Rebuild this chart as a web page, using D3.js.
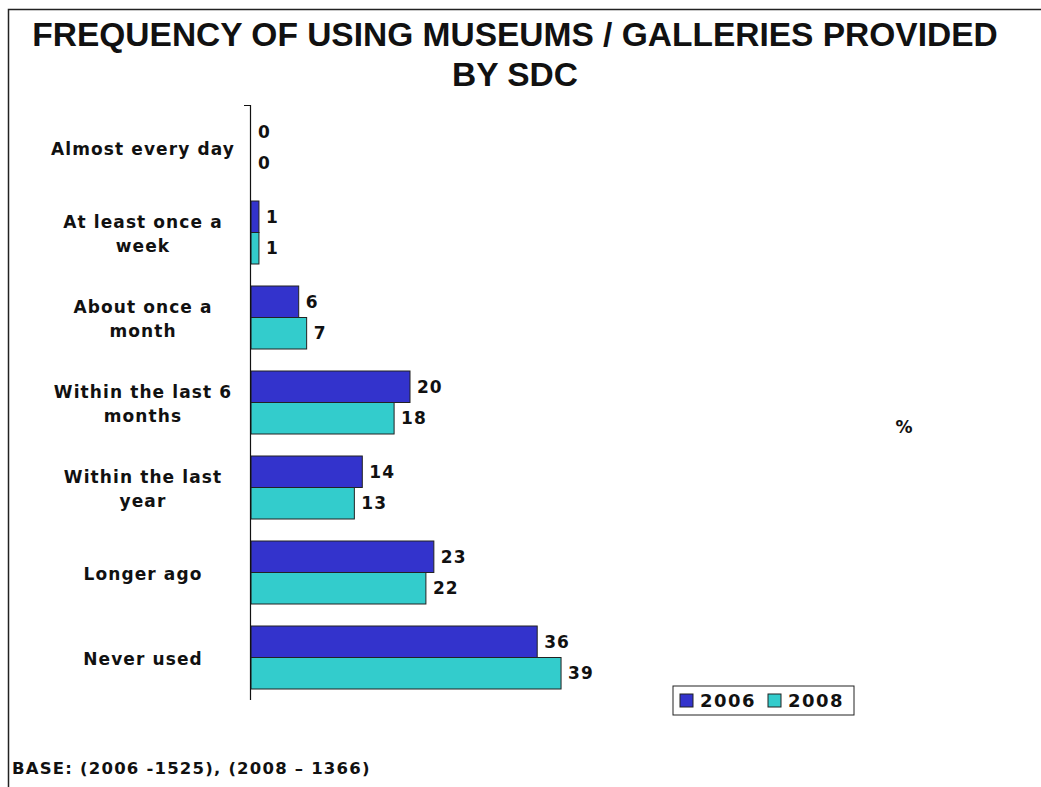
<!DOCTYPE html>
<html>
<head>
<meta charset="utf-8">
<script src="https://cdn.jsdelivr.net/npm/d3@7"></script>
<style>
  body { margin: 0; background: #fff; }
  svg text { font-family: "DejaVu Sans", Verdana, sans-serif; font-weight: bold; fill: #111; }
</style>
</head>
<body>
<svg id="chart"></svg>
<script>
// Chart data
const categories = [
  "Almost every day",
  "At least once a\nweek",
  "About once a\nmonth",
  "Within the last 6\nmonths",
  "Within the last\nyear",
  "Longer ago",
  "Never used"
];
const years = ["2006", "2008"];
const values2006 = [0, 1, 6, 20, 14, 23, 36];
const values2008 = [0, 1, 7, 18, 13, 22, 39];
const titleLines = ["FREQUENCY OF USING MUSEUMS / GALLERIES PROVIDED", "BY SDC"];
const baseNote = "BASE: (2006 -1525), (2008 \u2013 1366)";

const width = 1041;
const height = 787;
const colors = { "2006": "#3333cc", "2008": "#33cccc" };

const svg = d3.select("#chart").attr("width", width).attr("height", height);

// frame (left + top only, rest runs off the page)
svg.append("path")
  .attr("d", `M8.5,${height}V9.5H${width}`)
  .attr("fill", "none")
  .attr("stroke", "#222")
  .attr("stroke-width", 1.5);

// title
svg.append("g")
  .selectAll("text")
  .data(titleLines)
  .enter()
  .append("text")
  .attr("x", 515)
  .attr("y", (d, i) => 46 + i * 40)
  .attr("text-anchor", "middle")
  .style("font-family", "'Liberation Sans', Arial, sans-serif")
  .style("font-size", "33.5px")
  .text((d) => d);

// SCALES
const rows = categories.map((c, i) => ({ cat: c, v: { "2006": values2006[i], "2008": values2008[i] } }));

const yScale = d3.scaleBand()
  .domain(categories)
  .range([105, 700]);

const ySub = d3.scaleBand()
  .domain(years)
  .range([11, yScale.bandwidth() - 11]);

const xScale = d3.scaleLinear()
  .domain([0, 40])
  .range([251, 569]);

// bars
const groups = svg.append("g")
  .selectAll("g")
  .data(rows)
  .enter()
  .append("g")
  .attr("transform", (d) => `translate(0, ${yScale(d.cat)})`);

groups.selectAll("rect")
  .data((d) => years.map((y) => ({ year: y, value: d.v[y] })))
  .enter()
  .append("rect")
  .attr("x", xScale(0))
  .attr("y", (d) => ySub(d.year))
  .attr("width", (d) => xScale(d.value) - xScale(0))
  .attr("height", ySub.bandwidth())
  .attr("fill", (d) => colors[d.year])
  .attr("stroke", (d) => (d.value > 0 ? "#222" : "none"))
  .attr("stroke-width", 1);

// value labels
groups.selectAll("text")
  .data((d) => years.map((y) => ({ year: y, value: d.v[y] })))
  .enter()
  .append("text")
  .attr("x", (d) => xScale(d.value) + 7)
  .attr("y", (d) => ySub(d.year) + ySub.bandwidth() / 2)
  .attr("dy", "0.36em")
  .style("font-size", "17px")
  .style("letter-spacing", "1px")
  .text((d) => d.value);

// axis line with top tick
svg.append("path")
  .attr("d", `M244,${yScale.range()[0] + 0.5}H250.5V${yScale.range()[1]}`)
  .attr("fill", "none")
  .attr("stroke", "#111")
  .attr("stroke-width", 1.2);

// category labels
const catLabels = svg.append("g")
  .selectAll("text")
  .data(categories)
  .enter()
  .append("text")
  .attr("text-anchor", "middle")
  .style("font-size", "17px")
  .style("letter-spacing", "1.1px");

catLabels.each(function (d) {
  const lines = d.split("\n");
  const cy = yScale(d) + yScale.bandwidth() / 2 + 1;
  const lh = 24;
  const first = cy - ((lines.length - 1) * lh) / 2;
  d3.select(this)
    .selectAll("tspan")
    .data(lines)
    .enter()
    .append("tspan")
    .attr("x", 143)
    .attr("y", (l, i) => first + i * lh)
    .attr("dy", "0.36em")
    .text((l) => l);
});

// percent sign
svg.append("text")
  .attr("x", 904)
  .attr("y", 427)
  .attr("dy", "0.36em")
  .attr("text-anchor", "middle")
  .style("font-size", "17px")
  .text("%");

// LEGEND
const legend = svg.append("g").attr("transform", "translate(673, 686)");
legend.append("rect")
  .attr("width", 181)
  .attr("height", 29)
  .attr("fill", "#fff")
  .attr("stroke", "#222")
  .attr("stroke-width", 1);

const legendItems = legend.selectAll("g")
  .data(years)
  .enter()
  .append("g")
  .attr("transform", (d, i) => `translate(${7 + i * 88}, 0)`);

legendItems.append("rect")
  .attr("y", 8)
  .attr("width", 13)
  .attr("height", 13)
  .attr("fill", (d) => colors[d])
  .attr("stroke", "#222");

legendItems.append("text")
  .attr("x", 20)
  .attr("y", 15)
  .attr("dy", "0.36em")
  .style("font-size", "18px")
  .style("letter-spacing", "1.5px")
  .text((d) => d);

// base note
svg.append("text")
  .attr("x", 12)
  .attr("y", 768)
  .attr("dy", "0.36em")
  .style("font-size", "16.5px")
  .style("letter-spacing", "1.2px")
  .text(baseNote);
</script>
</body>
</html>
